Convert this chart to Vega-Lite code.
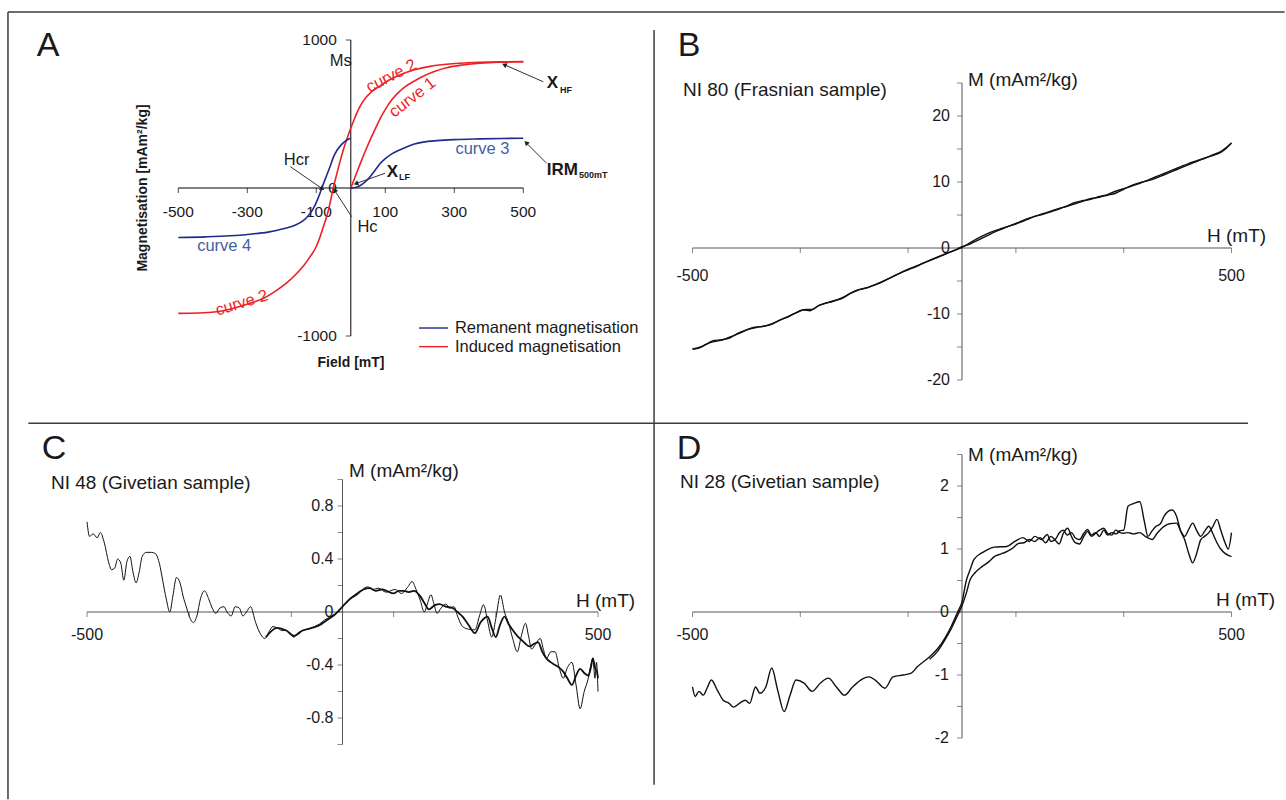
{
  "$schema": "https://vega.github.io/schema/vega-lite/v6.json",
  "width": 1286,
  "height": 800,
  "autosize": {"type": "fit", "contains": "padding"},
  "padding": 0,
  "background": "#ffffff",
  "config": {"view": {"stroke": null}, "font": "Liberation Sans", "text": {"font": "Liberation Sans", "color": "#1a1a1a"}},
  "resolve": {"scale": {"x": "independent", "y": "independent", "color": "independent"}},
  "datasets": {
    "frame": [
      {"x": 0.0062, "x2": 0.999, "y": 0.015, "y2": 0.015},
      {"x": 0.0062, "x2": 0.0062, "y": 0.015, "y2": 0.999},
      {"x": 0.022, "x2": 0.9705, "y": 0.529, "y2": 0.529},
      {"x": 0.5086, "x2": 0.5086, "y": 0.0375, "y2": 0.981}
    ],
    "xticks": [{"x": -500, "y": 0}, {"x": -300, "y": 0}, {"x": -100, "y": 0}, {"x": 100, "y": 0}, {"x": 300, "y": 0}, {"x": 500, "y": 0}],
    "xlab": [{"x": -500, "y": 0, "label": "-500"}, {"x": 500, "y": 0, "label": "500"}],
    "a_axes": [{"x": -500, "x2": 500, "y": 0, "y2": 0}, {"x": 0, "x2": 0, "y": -1000, "y2": 1000}],
    "a_yticks": [{"x": 0, "y": 1000}, {"x": 0, "y": -1000}],
    "a_xlab": [{"x": -500, "y": 0, "label": "-500"}, {"x": -300, "y": 0, "label": "-300"}, {"x": -100, "y": 0, "label": "-100"}, {"x": 100, "y": 0, "label": "100"}, {"x": 300, "y": 0, "label": "300"}, {"x": 500, "y": 0, "label": "500"}],
    "a_ylab": [{"x": 0, "y": 1000, "label": "1000"}, {"x": 0, "y": -1000, "label": "-1000"}, {"x": 0, "y": 0, "label": "0"}],
    "a_curves": [
      {"curve": "c1", "kind": "Induced", "x": 0, "y": 0}, {"curve": "c1", "kind": "Induced", "x": 15, "y": 90}, {"curve": "c1", "kind": "Induced", "x": 30, "y": 180}, {"curve": "c1", "kind": "Induced", "x": 45, "y": 265}, {"curve": "c1", "kind": "Induced", "x": 60, "y": 345}, {"curve": "c1", "kind": "Induced", "x": 75, "y": 420}, {"curve": "c1", "kind": "Induced", "x": 90, "y": 490}, {"curve": "c1", "kind": "Induced", "x": 105, "y": 550}, {"curve": "c1", "kind": "Induced", "x": 120, "y": 600}, {"curve": "c1", "kind": "Induced", "x": 140, "y": 650}, {"curve": "c1", "kind": "Induced", "x": 160, "y": 688}, {"curve": "c1", "kind": "Induced", "x": 182, "y": 720}, {"curve": "c1", "kind": "Induced", "x": 210, "y": 755}, {"curve": "c1", "kind": "Induced", "x": 240, "y": 785}, {"curve": "c1", "kind": "Induced", "x": 278, "y": 812}, {"curve": "c1", "kind": "Induced", "x": 320, "y": 830}, {"curve": "c1", "kind": "Induced", "x": 374, "y": 843}, {"curve": "c1", "kind": "Induced", "x": 430, "y": 850}, {"curve": "c1", "kind": "Induced", "x": 500, "y": 853},
      {"curve": "c2", "kind": "Induced", "x": -500, "y": -847}, {"curve": "c2", "kind": "Induced", "x": -440, "y": -845}, {"curve": "c2", "kind": "Induced", "x": -389, "y": -836}, {"curve": "c2", "kind": "Induced", "x": -340, "y": -812}, {"curve": "c2", "kind": "Induced", "x": -292, "y": -779}, {"curve": "c2", "kind": "Induced", "x": -250, "y": -742}, {"curve": "c2", "kind": "Induced", "x": -215, "y": -692}, {"curve": "c2", "kind": "Induced", "x": -185, "y": -640}, {"curve": "c2", "kind": "Induced", "x": -157, "y": -578}, {"curve": "c2", "kind": "Induced", "x": -135, "y": -520}, {"curve": "c2", "kind": "Induced", "x": -118, "y": -464}, {"curve": "c2", "kind": "Induced", "x": -100, "y": -395}, {"curve": "c2", "kind": "Induced", "x": -89, "y": -329}, {"curve": "c2", "kind": "Induced", "x": -80, "y": -265}, {"curve": "c2", "kind": "Induced", "x": -70, "y": -194}, {"curve": "c2", "kind": "Induced", "x": -60, "y": -100}, {"curve": "c2", "kind": "Induced", "x": -51, "y": 0}, {"curve": "c2", "kind": "Induced", "x": -40, "y": 100}, {"curve": "c2", "kind": "Induced", "x": -30, "y": 190}, {"curve": "c2", "kind": "Induced", "x": -20, "y": 270}, {"curve": "c2", "kind": "Induced", "x": -10, "y": 340}, {"curve": "c2", "kind": "Induced", "x": 0, "y": 405}, {"curve": "c2", "kind": "Induced", "x": 10, "y": 465}, {"curve": "c2", "kind": "Induced", "x": 20, "y": 520}, {"curve": "c2", "kind": "Induced", "x": 30, "y": 565}, {"curve": "c2", "kind": "Induced", "x": 45, "y": 615}, {"curve": "c2", "kind": "Induced", "x": 60, "y": 650}, {"curve": "c2", "kind": "Induced", "x": 85, "y": 690}, {"curve": "c2", "kind": "Induced", "x": 110, "y": 728}, {"curve": "c2", "kind": "Induced", "x": 140, "y": 762}, {"curve": "c2", "kind": "Induced", "x": 182, "y": 797}, {"curve": "c2", "kind": "Induced", "x": 230, "y": 822}, {"curve": "c2", "kind": "Induced", "x": 278, "y": 836}, {"curve": "c2", "kind": "Induced", "x": 330, "y": 845}, {"curve": "c2", "kind": "Induced", "x": 375, "y": 849}, {"curve": "c2", "kind": "Induced", "x": 430, "y": 852}, {"curve": "c2", "kind": "Induced", "x": 500, "y": 854},
      {"curve": "c3", "kind": "Remanent", "x": 0, "y": 0}, {"curve": "c3", "kind": "Remanent", "x": 10, "y": 2}, {"curve": "c3", "kind": "Remanent", "x": 20, "y": 8}, {"curve": "c3", "kind": "Remanent", "x": 30, "y": 20}, {"curve": "c3", "kind": "Remanent", "x": 40, "y": 38}, {"curve": "c3", "kind": "Remanent", "x": 50, "y": 60}, {"curve": "c3", "kind": "Remanent", "x": 60, "y": 88}, {"curve": "c3", "kind": "Remanent", "x": 70, "y": 118}, {"curve": "c3", "kind": "Remanent", "x": 85, "y": 165}, {"curve": "c3", "kind": "Remanent", "x": 100, "y": 198}, {"curve": "c3", "kind": "Remanent", "x": 120, "y": 232}, {"curve": "c3", "kind": "Remanent", "x": 140, "y": 255}, {"curve": "c3", "kind": "Remanent", "x": 160, "y": 276}, {"curve": "c3", "kind": "Remanent", "x": 182, "y": 295}, {"curve": "c3", "kind": "Remanent", "x": 210, "y": 310}, {"curve": "c3", "kind": "Remanent", "x": 250, "y": 320}, {"curve": "c3", "kind": "Remanent", "x": 300, "y": 327}, {"curve": "c3", "kind": "Remanent", "x": 374, "y": 332}, {"curve": "c3", "kind": "Remanent", "x": 440, "y": 335}, {"curve": "c3", "kind": "Remanent", "x": 500, "y": 336},
      {"curve": "c4", "kind": "Remanent", "x": -500, "y": -334}, {"curve": "c4", "kind": "Remanent", "x": -420, "y": -330}, {"curve": "c4", "kind": "Remanent", "x": -350, "y": -323}, {"curve": "c4", "kind": "Remanent", "x": -292, "y": -312}, {"curve": "c4", "kind": "Remanent", "x": -240, "y": -298}, {"curve": "c4", "kind": "Remanent", "x": -196, "y": -275}, {"curve": "c4", "kind": "Remanent", "x": -160, "y": -250}, {"curve": "c4", "kind": "Remanent", "x": -138, "y": -220}, {"curve": "c4", "kind": "Remanent", "x": -125, "y": -192}, {"curve": "c4", "kind": "Remanent", "x": -110, "y": -145}, {"curve": "c4", "kind": "Remanent", "x": -95, "y": -70}, {"curve": "c4", "kind": "Remanent", "x": -84, "y": 0}, {"curve": "c4", "kind": "Remanent", "x": -70, "y": 85}, {"curve": "c4", "kind": "Remanent", "x": -60, "y": 145}, {"curve": "c4", "kind": "Remanent", "x": -51, "y": 205}, {"curve": "c4", "kind": "Remanent", "x": -40, "y": 255}, {"curve": "c4", "kind": "Remanent", "x": -30, "y": 285}, {"curve": "c4", "kind": "Remanent", "x": -22, "y": 305}, {"curve": "c4", "kind": "Remanent", "x": -10, "y": 326}, {"curve": "c4", "kind": "Remanent", "x": 0, "y": 336}
    ],
    "a_legend": [{"kind": "Remanent", "x": 197.7, "x2": 281.7, "y": -946}, {"kind": "Induced", "x": 197.7, "x2": 281.7, "y": -1072}],
    "a_legend_text": [{"x": 301.7, "y": -946, "label": "Remanent magnetisation"}, {"x": 301.7, "y": -1072, "label": "Induced magnetisation"}],
    "a_black": [{"x": -156.8, "y": 189, "label": "Hcr"}, {"x": 48.4, "y": -261, "label": "Hc"}, {"x": -29, "y": 859, "label": "Ms"}],
    "a_blue": [{"x": 381.7, "y": 263.5, "label": "curve 3"}, {"x": -367, "y": -390, "label": "curve 4"}],
    "a_red": [{"id": "u", "x": 117.7, "y": 757, "label": "curve 2"}, {"id": "c1", "x": 178.5, "y": 611.5, "label": "curve 1"}, {"id": "l", "x": -316, "y": -777, "label": "curve 2"}],
    "a_bold": [{"x": 104, "y": 110, "label": "X"}, {"x": 567.8, "y": 707.4, "label": "X"}, {"x": 567.8, "y": 121.6, "label": "IRM"}],
    "a_sub": [{"x": 139.7, "y": 76.4, "label": "LF"}, {"x": 606.4, "y": 662, "label": "HF"}, {"x": 661.4, "y": 87.8, "label": "500mT"}],
    "a_ytitle": [{"x": -602, "y": 0, "label": "Magnetisation [mAm²/kg]"}],
    "a_xtitle": [{"x": 0.6, "y": -1182, "label": "Field [mT]"}],
    "a_letter": [{"x": -877.7, "y": 959.5, "label": "A"}],
    "a_arrows": [
      {"name": "Hcr", "x": -175, "y": 144, "x2": -84.5, "y2": -2},
      {"name": "Hc", "x": 2.6, "y": -194, "x2": -45.8, "y2": -20.3},
      {"name": "XLF", "x": 99.1, "y": 99.3, "x2": 17.1, "y2": 31.8},
      {"name": "XHF", "x": 558, "y": 718, "x2": 447, "y2": 831},
      {"name": "IRM", "x": 567.8, "y": 166.9, "x2": 509.9, "y2": 302}
    ],
    "a_heads": [
      {"name": "Hcr", "x": -84.5, "y": -2},
      {"name": "Hc", "x": -45.8, "y": -20.3},
      {"name": "XLF", "x": 17.1, "y": 31.8},
      {"name": "XHF", "x": 447, "y": 831},
      {"name": "IRM", "x": 509.9, "y": 302}
    ],
    "b_axes": [{"x": -500, "x2": 500, "y": 0, "y2": 0}, {"x": 0, "x2": 0, "y": -20, "y2": 25}],
    "b_yticks": [{"x": 0, "y": -20}, {"x": 0, "y": -15}, {"x": 0, "y": -10}, {"x": 0, "y": -5}, {"x": 0, "y": 0}, {"x": 0, "y": 5}, {"x": 0, "y": 10}, {"x": 0, "y": 15}, {"x": 0, "y": 20}, {"x": 0, "y": 25}],
    "b_ylab": [{"x": 0, "y": 20, "label": "20"}, {"x": 0, "y": 10, "label": "10"}, {"x": 0, "y": 0, "label": "0"}, {"x": 0, "y": -10, "label": "-10"}, {"x": 0, "y": -20, "label": "-20"}],
    "b_text": [{"x": -517.6, "y": 23.94, "label": "NI 80 (Frasnian sample)"}, {"x": 11.1, "y": 25.45, "label": "M (mAm²/kg)"}, {"x": 454.5, "y": 1.82, "label": "H (mT)"}],
    "b_letter": [{"x": -506.5, "y": 30.6, "label": "B"}],
    "b_curves": [
      {"s": "b1", "x": -500, "y": -15.3}, {"s": "b1", "x": -490, "y": -15.2}, {"s": "b1", "x": -475, "y": -14.6}, {"s": "b1", "x": -460, "y": -14.0}, {"s": "b1", "x": -445, "y": -13.9}, {"s": "b1", "x": -430, "y": -13.6}, {"s": "b1", "x": -415, "y": -12.9}, {"s": "b1", "x": -400, "y": -12.4}, {"s": "b1", "x": -385, "y": -12.0}, {"s": "b1", "x": -370, "y": -11.9}, {"s": "b1", "x": -355, "y": -11.6}, {"s": "b1", "x": -340, "y": -11.0}, {"s": "b1", "x": -325, "y": -10.5}, {"s": "b1", "x": -310, "y": -9.9}, {"s": "b1", "x": -295, "y": -9.4}, {"s": "b1", "x": -282, "y": -9.5}, {"s": "b1", "x": -270, "y": -8.9}, {"s": "b1", "x": -255, "y": -8.4}, {"s": "b1", "x": -240, "y": -8.1}, {"s": "b1", "x": -225, "y": -7.7}, {"s": "b1", "x": -210, "y": -7.0}, {"s": "b1", "x": -195, "y": -6.4}, {"s": "b1", "x": -180, "y": -6.1}, {"s": "b1", "x": -165, "y": -5.7}, {"s": "b1", "x": -150, "y": -5.2}, {"s": "b1", "x": -135, "y": -4.6}, {"s": "b1", "x": -120, "y": -4.0}, {"s": "b1", "x": -105, "y": -3.4}, {"s": "b1", "x": -90, "y": -2.9}, {"s": "b1", "x": -75, "y": -2.4}, {"s": "b1", "x": -60, "y": -1.9}, {"s": "b1", "x": -45, "y": -1.4}, {"s": "b1", "x": -30, "y": -0.9}, {"s": "b1", "x": -15, "y": -0.4}, {"s": "b1", "x": 0, "y": 0.1}, {"s": "b1", "x": 15, "y": 0.8}, {"s": "b1", "x": 30, "y": 1.5}, {"s": "b1", "x": 45, "y": 2.1}, {"s": "b1", "x": 60, "y": 2.6}, {"s": "b1", "x": 75, "y": 3.0}, {"s": "b1", "x": 90, "y": 3.4}, {"s": "b1", "x": 105, "y": 3.8}, {"s": "b1", "x": 120, "y": 4.3}, {"s": "b1", "x": 135, "y": 4.8}, {"s": "b1", "x": 150, "y": 5.2}, {"s": "b1", "x": 165, "y": 5.6}, {"s": "b1", "x": 180, "y": 6.0}, {"s": "b1", "x": 195, "y": 6.3}, {"s": "b1", "x": 210, "y": 6.7}, {"s": "b1", "x": 225, "y": 7.1}, {"s": "b1", "x": 240, "y": 7.4}, {"s": "b1", "x": 255, "y": 7.8}, {"s": "b1", "x": 270, "y": 8.1}, {"s": "b1", "x": 285, "y": 8.6}, {"s": "b1", "x": 300, "y": 9.0}, {"s": "b1", "x": 315, "y": 9.4}, {"s": "b1", "x": 330, "y": 9.8}, {"s": "b1", "x": 345, "y": 10.3}, {"s": "b1", "x": 360, "y": 10.8}, {"s": "b1", "x": 375, "y": 11.3}, {"s": "b1", "x": 390, "y": 11.8}, {"s": "b1", "x": 405, "y": 12.3}, {"s": "b1", "x": 420, "y": 12.8}, {"s": "b1", "x": 435, "y": 13.2}, {"s": "b1", "x": 450, "y": 13.6}, {"s": "b1", "x": 465, "y": 14.1}, {"s": "b1", "x": 480, "y": 14.6}, {"s": "b1", "x": 490, "y": 15.2}, {"s": "b1", "x": 500, "y": 15.9},
      {"s": "b2", "x": -500, "y": -15.3}, {"s": "b2", "x": -485, "y": -15.0}, {"s": "b2", "x": -470, "y": -14.4}, {"s": "b2", "x": -455, "y": -14.1}, {"s": "b2", "x": -440, "y": -13.8}, {"s": "b2", "x": -425, "y": -13.3}, {"s": "b2", "x": -410, "y": -12.8}, {"s": "b2", "x": -395, "y": -12.3}, {"s": "b2", "x": -380, "y": -12.0}, {"s": "b2", "x": -365, "y": -11.8}, {"s": "b2", "x": -350, "y": -11.4}, {"s": "b2", "x": -335, "y": -10.8}, {"s": "b2", "x": -320, "y": -10.3}, {"s": "b2", "x": -305, "y": -9.7}, {"s": "b2", "x": -290, "y": -9.3}, {"s": "b2", "x": -278, "y": -9.3}, {"s": "b2", "x": -265, "y": -8.7}, {"s": "b2", "x": -250, "y": -8.3}, {"s": "b2", "x": -235, "y": -7.9}, {"s": "b2", "x": -220, "y": -7.5}, {"s": "b2", "x": -205, "y": -6.8}, {"s": "b2", "x": -190, "y": -6.3}, {"s": "b2", "x": -175, "y": -6.0}, {"s": "b2", "x": -160, "y": -5.5}, {"s": "b2", "x": -145, "y": -5.0}, {"s": "b2", "x": -130, "y": -4.4}, {"s": "b2", "x": -115, "y": -3.8}, {"s": "b2", "x": -100, "y": -3.3}, {"s": "b2", "x": -85, "y": -2.8}, {"s": "b2", "x": -70, "y": -2.2}, {"s": "b2", "x": -55, "y": -1.7}, {"s": "b2", "x": -40, "y": -1.2}, {"s": "b2", "x": -25, "y": -0.7}, {"s": "b2", "x": -10, "y": -0.2}, {"s": "b2", "x": 0, "y": 0.2}, {"s": "b2", "x": 15, "y": 0.6}, {"s": "b2", "x": 30, "y": 1.2}, {"s": "b2", "x": 45, "y": 1.8}, {"s": "b2", "x": 60, "y": 2.4}, {"s": "b2", "x": 75, "y": 2.9}, {"s": "b2", "x": 90, "y": 3.4}, {"s": "b2", "x": 105, "y": 3.9}, {"s": "b2", "x": 120, "y": 4.4}, {"s": "b2", "x": 135, "y": 4.8}, {"s": "b2", "x": 150, "y": 5.1}, {"s": "b2", "x": 165, "y": 5.5}, {"s": "b2", "x": 180, "y": 5.9}, {"s": "b2", "x": 195, "y": 6.4}, {"s": "b2", "x": 210, "y": 6.9}, {"s": "b2", "x": 225, "y": 7.2}, {"s": "b2", "x": 240, "y": 7.5}, {"s": "b2", "x": 255, "y": 7.7}, {"s": "b2", "x": 270, "y": 8.0}, {"s": "b2", "x": 285, "y": 8.3}, {"s": "b2", "x": 300, "y": 8.9}, {"s": "b2", "x": 315, "y": 9.5}, {"s": "b2", "x": 330, "y": 9.9}, {"s": "b2", "x": 345, "y": 10.2}, {"s": "b2", "x": 360, "y": 10.6}, {"s": "b2", "x": 375, "y": 11.1}, {"s": "b2", "x": 390, "y": 11.6}, {"s": "b2", "x": 405, "y": 12.1}, {"s": "b2", "x": 420, "y": 12.6}, {"s": "b2", "x": 435, "y": 13.1}, {"s": "b2", "x": 450, "y": 13.6}, {"s": "b2", "x": 465, "y": 14.0}, {"s": "b2", "x": 480, "y": 14.5}, {"s": "b2", "x": 490, "y": 15.1}, {"s": "b2", "x": 500, "y": 15.9}
    ],
    "c_axes": [{"x": -500, "x2": 500, "y": 0, "y2": 0}, {"x": 0, "x2": 0, "y": -1, "y2": 1}],
    "c_yticks": [{"x": 0, "y": -1}, {"x": 0, "y": -0.8}, {"x": 0, "y": -0.6}, {"x": 0, "y": -0.4}, {"x": 0, "y": -0.2}, {"x": 0, "y": 0}, {"x": 0, "y": 0.2}, {"x": 0, "y": 0.4}, {"x": 0, "y": 0.6}, {"x": 0, "y": 0.8}, {"x": 0, "y": 1}],
    "c_ylab": [{"x": 0, "y": 0.8, "label": "0.8"}, {"x": 0, "y": 0.4, "label": "0.4"}, {"x": 0, "y": 0, "label": "0"}, {"x": 0, "y": -0.4, "label": "-0.4"}, {"x": 0, "y": -0.8, "label": "-0.8"}],
    "c_text": [{"x": -570.5, "y": 0.9736, "label": "NI 48 (Givetian sample)"}, {"x": 12.7, "y": 1.064, "label": "M (mAm²/kg)"}, {"x": 456.9, "y": 0.083, "label": "H (mT)"}],
    "c_letter": [{"x": -564.6, "y": 1.23, "label": "C"}],
    "c_thin": [
      {"x": -500, "y": 0.68}, {"x": -495, "y": 0.57}, {"x": -488, "y": 0.59}, {"x": -480, "y": 0.56}, {"x": -474, "y": 0.6}, {"x": -466, "y": 0.52}, {"x": -458, "y": 0.38}, {"x": -452, "y": 0.32}, {"x": -446, "y": 0.33}, {"x": -440, "y": 0.40}, {"x": -434, "y": 0.37}, {"x": -428, "y": 0.24}, {"x": -422, "y": 0.38}, {"x": -416, "y": 0.42}, {"x": -410, "y": 0.30}, {"x": -404, "y": 0.22}, {"x": -398, "y": 0.30}, {"x": -392, "y": 0.42}, {"x": -384, "y": 0.45}, {"x": -374, "y": 0.45}, {"x": -366, "y": 0.44}, {"x": -358, "y": 0.36}, {"x": -352, "y": 0.24}, {"x": -345, "y": 0.1}, {"x": -338, "y": 0.0}, {"x": -332, "y": 0.12}, {"x": -325, "y": 0.26}, {"x": -318, "y": 0.22}, {"x": -312, "y": 0.12}, {"x": -305, "y": 0.03}, {"x": -298, "y": -0.05}, {"x": -292, "y": -0.08}, {"x": -285, "y": -0.03}, {"x": -278, "y": 0.1}, {"x": -270, "y": 0.16}, {"x": -262, "y": 0.1}, {"x": -255, "y": 0.03}, {"x": -248, "y": -0.01}, {"x": -240, "y": 0.03}, {"x": -232, "y": 0.04}, {"x": -226, "y": 0.0}, {"x": -218, "y": -0.03}, {"x": -210, "y": 0.04}, {"x": -202, "y": 0.03}, {"x": -195, "y": -0.03}, {"x": -188, "y": 0.0}, {"x": -180, "y": 0.04}, {"x": -170, "y": -0.08}, {"x": -160, "y": -0.17}, {"x": -152, "y": -0.2}, {"x": -144, "y": -0.15}, {"x": -136, "y": -0.11}, {"x": -128, "y": -0.12}, {"x": -118, "y": -0.14}, {"x": -110, "y": -0.14}, {"x": -102, "y": -0.17}, {"x": -95, "y": -0.19}, {"x": -88, "y": -0.16}, {"x": -78, "y": -0.14}, {"x": -68, "y": -0.13}, {"x": -55, "y": -0.11}, {"x": -45, "y": -0.09}, {"x": -35, "y": -0.06}, {"x": -21, "y": -0.03}, {"x": -10, "y": 0.0}, {"x": 0, "y": 0.04}, {"x": 12, "y": 0.09}, {"x": 29, "y": 0.13}, {"x": 49, "y": 0.19}, {"x": 60, "y": 0.17}, {"x": 70, "y": 0.18}, {"x": 85, "y": 0.15}, {"x": 103, "y": 0.17}, {"x": 115, "y": 0.14}, {"x": 128, "y": 0.19}, {"x": 136, "y": 0.23}, {"x": 144, "y": 0.17}, {"x": 152, "y": 0.09}, {"x": 160, "y": 0.0}, {"x": 166, "y": 0.06}, {"x": 173, "y": 0.13}, {"x": 179, "y": 0.06}, {"x": 185, "y": -0.01}, {"x": 193, "y": 0.03}, {"x": 202, "y": 0.06}, {"x": 210, "y": 0.03}, {"x": 218, "y": 0.04}, {"x": 226, "y": -0.04}, {"x": 235, "y": -0.11}, {"x": 247, "y": -0.13}, {"x": 259, "y": -0.135}, {"x": 268, "y": -0.03}, {"x": 276, "y": 0.055}, {"x": 284, "y": -0.07}, {"x": 292, "y": -0.19}, {"x": 300, "y": -0.05}, {"x": 309, "y": 0.128}, {"x": 317, "y": 0.0}, {"x": 325, "y": -0.085}, {"x": 333, "y": -0.2}, {"x": 342, "y": -0.3}, {"x": 350, "y": -0.18}, {"x": 358, "y": -0.085}, {"x": 364, "y": -0.18}, {"x": 370, "y": -0.28}, {"x": 378, "y": -0.24}, {"x": 387, "y": -0.2}, {"x": 393, "y": -0.28}, {"x": 399, "y": -0.35}, {"x": 408, "y": -0.3}, {"x": 416, "y": -0.3}, {"x": 424, "y": -0.42}, {"x": 432, "y": -0.5}, {"x": 440, "y": -0.42}, {"x": 449, "y": -0.38}, {"x": 457, "y": -0.55}, {"x": 465, "y": -0.73}, {"x": 473, "y": -0.6}, {"x": 481, "y": -0.5}, {"x": 486, "y": -0.4}, {"x": 490, "y": -0.35}, {"x": 494, "y": -0.5}, {"x": 497, "y": -0.38}, {"x": 500, "y": -0.6}
    ],
    "c_thick": [
      {"x": -150, "y": -0.19}, {"x": -128, "y": -0.12}, {"x": -110, "y": -0.14}, {"x": -95, "y": -0.18}, {"x": -78, "y": -0.14}, {"x": -60, "y": -0.12}, {"x": -45, "y": -0.1}, {"x": -30, "y": -0.06}, {"x": -15, "y": -0.02}, {"x": 0, "y": 0.04}, {"x": 15, "y": 0.1}, {"x": 29, "y": 0.14}, {"x": 41, "y": 0.17}, {"x": 53, "y": 0.18}, {"x": 65, "y": 0.16}, {"x": 78, "y": 0.17}, {"x": 86, "y": 0.16}, {"x": 100, "y": 0.14}, {"x": 110, "y": 0.16}, {"x": 119, "y": 0.16}, {"x": 130, "y": 0.15}, {"x": 140, "y": 0.16}, {"x": 152, "y": 0.12}, {"x": 160, "y": 0.07}, {"x": 169, "y": 0.02}, {"x": 180, "y": 0.05}, {"x": 190, "y": 0.06}, {"x": 202, "y": 0.04}, {"x": 215, "y": 0.03}, {"x": 225, "y": 0.0}, {"x": 235, "y": -0.035}, {"x": 247, "y": -0.1}, {"x": 259, "y": -0.16}, {"x": 270, "y": -0.08}, {"x": 284, "y": -0.035}, {"x": 292, "y": -0.12}, {"x": 300, "y": -0.19}, {"x": 308, "y": -0.1}, {"x": 317, "y": -0.035}, {"x": 325, "y": -0.09}, {"x": 333, "y": -0.136}, {"x": 342, "y": -0.18}, {"x": 350, "y": -0.21}, {"x": 358, "y": -0.24}, {"x": 366, "y": -0.26}, {"x": 375, "y": -0.24}, {"x": 383, "y": -0.23}, {"x": 391, "y": -0.3}, {"x": 399, "y": -0.35}, {"x": 408, "y": -0.38}, {"x": 416, "y": -0.4}, {"x": 424, "y": -0.42}, {"x": 432, "y": -0.45}, {"x": 440, "y": -0.5}, {"x": 449, "y": -0.55}, {"x": 457, "y": -0.48}, {"x": 465, "y": -0.43}, {"x": 473, "y": -0.46}, {"x": 481, "y": -0.48}, {"x": 486, "y": -0.42}, {"x": 490, "y": -0.35}, {"x": 494, "y": -0.42}, {"x": 498, "y": -0.45}, {"x": 500, "y": -0.5}
    ],
    "d_axes": [{"x": -500, "x2": 500, "y": 0, "y2": 0}, {"x": 0, "x2": 0, "y": -2, "y2": 2.5}],
    "d_yticks": [{"x": 0, "y": -2}, {"x": 0, "y": -1.5}, {"x": 0, "y": -1}, {"x": 0, "y": -0.5}, {"x": 0, "y": 0}, {"x": 0, "y": 0.5}, {"x": 0, "y": 1}, {"x": 0, "y": 1.5}, {"x": 0, "y": 2}, {"x": 0, "y": 2.5}],
    "d_ylab": [{"x": 0, "y": 2, "label": "2"}, {"x": 0, "y": 1, "label": "1"}, {"x": 0, "y": 0, "label": "0"}, {"x": 0, "y": -1, "label": "-1"}, {"x": 0, "y": -2, "label": "-2"}],
    "d_text": [{"x": -523.2, "y": 2.063, "label": "NI 28 (Givetian sample)"}, {"x": 11.1, "y": 2.492, "label": "M (mAm²/kg)"}, {"x": 471.2, "y": 0.19, "label": "H (mT)"}],
    "d_letter": [{"x": -506.5, "y": 2.587, "label": "D"}],
    "d_curves": [
      {"s": "d1", "x": -500, "y": -1.19}, {"s": "d1", "x": -495, "y": -1.34}, {"s": "d1", "x": -488, "y": -1.26}, {"s": "d1", "x": -480, "y": -1.32}, {"s": "d1", "x": -473, "y": -1.21}, {"s": "d1", "x": -465, "y": -1.08}, {"s": "d1", "x": -454, "y": -1.24}, {"s": "d1", "x": -443, "y": -1.40}, {"s": "d1", "x": -432, "y": -1.45}, {"s": "d1", "x": -424, "y": -1.51}, {"s": "d1", "x": -413, "y": -1.45}, {"s": "d1", "x": -402, "y": -1.40}, {"s": "d1", "x": -394, "y": -1.45}, {"s": "d1", "x": -383, "y": -1.19}, {"s": "d1", "x": -375, "y": -1.29}, {"s": "d1", "x": -364, "y": -1.19}, {"s": "d1", "x": -353, "y": -0.89}, {"s": "d1", "x": -342, "y": -1.24}, {"s": "d1", "x": -330, "y": -1.58}, {"s": "d1", "x": -319, "y": -1.32}, {"s": "d1", "x": -308, "y": -1.08}, {"s": "d1", "x": -293, "y": -1.13}, {"s": "d1", "x": -278, "y": -1.26}, {"s": "d1", "x": -263, "y": -1.13}, {"s": "d1", "x": -248, "y": -1.05}, {"s": "d1", "x": -233, "y": -1.19}, {"s": "d1", "x": -218, "y": -1.32}, {"s": "d1", "x": -203, "y": -1.19}, {"s": "d1", "x": -188, "y": -1.08}, {"s": "d1", "x": -173, "y": -1.03}, {"s": "d1", "x": -161, "y": -1.08}, {"s": "d1", "x": -143, "y": -1.21}, {"s": "d1", "x": -128, "y": -1.03}, {"s": "d1", "x": -109, "y": -1.0}, {"s": "d1", "x": -94, "y": -0.97}, {"s": "d1", "x": -83, "y": -0.87}, {"s": "d1", "x": -60, "y": -0.71}, {"s": "d1", "x": -45, "y": -0.58}, {"s": "d1", "x": -30, "y": -0.39}, {"s": "d1", "x": -19, "y": -0.21}, {"s": "d1", "x": -8, "y": 0.0}, {"s": "d1", "x": 0, "y": 0.16}, {"s": "d1", "x": 8, "y": 0.5}, {"s": "d1", "x": 15, "y": 0.67}, {"s": "d1", "x": 22, "y": 0.83}, {"s": "d1", "x": 35, "y": 0.93}, {"s": "d1", "x": 45, "y": 0.98}, {"s": "d1", "x": 60, "y": 1.03}, {"s": "d1", "x": 83, "y": 1.04}, {"s": "d1", "x": 98, "y": 1.12}, {"s": "d1", "x": 113, "y": 1.18}, {"s": "d1", "x": 125, "y": 1.12}, {"s": "d1", "x": 135, "y": 1.2}, {"s": "d1", "x": 148, "y": 1.15}, {"s": "d1", "x": 158, "y": 1.23}, {"s": "d1", "x": 165, "y": 1.12}, {"s": "d1", "x": 173, "y": 1.15}, {"s": "d1", "x": 180, "y": 1.25}, {"s": "d1", "x": 188, "y": 1.3}, {"s": "d1", "x": 195, "y": 1.22}, {"s": "d1", "x": 203, "y": 1.26}, {"s": "d1", "x": 210, "y": 1.18}, {"s": "d1", "x": 218, "y": 1.15}, {"s": "d1", "x": 226, "y": 1.25}, {"s": "d1", "x": 233, "y": 1.31}, {"s": "d1", "x": 240, "y": 1.22}, {"s": "d1", "x": 248, "y": 1.26}, {"s": "d1", "x": 255, "y": 1.2}, {"s": "d1", "x": 263, "y": 1.3}, {"s": "d1", "x": 270, "y": 1.22}, {"s": "d1", "x": 278, "y": 1.26}, {"s": "d1", "x": 286, "y": 1.24}, {"s": "d1", "x": 293, "y": 1.29}, {"s": "d1", "x": 300, "y": 1.3}, {"s": "d1", "x": 308, "y": 1.68}, {"s": "d1", "x": 318, "y": 1.72}, {"s": "d1", "x": 330, "y": 1.75}, {"s": "d1", "x": 338, "y": 1.45}, {"s": "d1", "x": 345, "y": 1.2}, {"s": "d1", "x": 352, "y": 1.28}, {"s": "d1", "x": 360, "y": 1.36}, {"s": "d1", "x": 368, "y": 1.4}, {"s": "d1", "x": 375, "y": 1.52}, {"s": "d1", "x": 383, "y": 1.6}, {"s": "d1", "x": 390, "y": 1.62}, {"s": "d1", "x": 398, "y": 1.52}, {"s": "d1", "x": 405, "y": 1.3}, {"s": "d1", "x": 413, "y": 1.15}, {"s": "d1", "x": 420, "y": 0.95}, {"s": "d1", "x": 428, "y": 0.78}, {"s": "d1", "x": 435, "y": 0.92}, {"s": "d1", "x": 443, "y": 1.15}, {"s": "d1", "x": 450, "y": 1.2}, {"s": "d1", "x": 458, "y": 1.26}, {"s": "d1", "x": 465, "y": 1.35}, {"s": "d1", "x": 473, "y": 1.47}, {"s": "d1", "x": 480, "y": 1.3}, {"s": "d1", "x": 488, "y": 1.1}, {"s": "d1", "x": 494, "y": 1.0}, {"s": "d1", "x": 500, "y": 1.26},
      {"s": "d2", "x": -60, "y": -0.75}, {"s": "d2", "x": -45, "y": -0.62}, {"s": "d2", "x": -30, "y": -0.42}, {"s": "d2", "x": -19, "y": -0.25}, {"s": "d2", "x": -8, "y": -0.05}, {"s": "d2", "x": 0, "y": 0.1}, {"s": "d2", "x": 8, "y": 0.3}, {"s": "d2", "x": 15, "y": 0.51}, {"s": "d2", "x": 25, "y": 0.63}, {"s": "d2", "x": 37, "y": 0.72}, {"s": "d2", "x": 50, "y": 0.8}, {"s": "d2", "x": 60, "y": 0.88}, {"s": "d2", "x": 72, "y": 0.92}, {"s": "d2", "x": 83, "y": 0.96}, {"s": "d2", "x": 95, "y": 1.02}, {"s": "d2", "x": 105, "y": 1.09}, {"s": "d2", "x": 115, "y": 1.1}, {"s": "d2", "x": 125, "y": 1.15}, {"s": "d2", "x": 135, "y": 1.12}, {"s": "d2", "x": 145, "y": 1.18}, {"s": "d2", "x": 155, "y": 1.1}, {"s": "d2", "x": 165, "y": 1.2}, {"s": "d2", "x": 173, "y": 1.14}, {"s": "d2", "x": 180, "y": 1.08}, {"s": "d2", "x": 188, "y": 1.25}, {"s": "d2", "x": 196, "y": 1.33}, {"s": "d2", "x": 203, "y": 1.2}, {"s": "d2", "x": 210, "y": 1.1}, {"s": "d2", "x": 218, "y": 1.08}, {"s": "d2", "x": 226, "y": 1.2}, {"s": "d2", "x": 233, "y": 1.28}, {"s": "d2", "x": 240, "y": 1.2}, {"s": "d2", "x": 248, "y": 1.25}, {"s": "d2", "x": 255, "y": 1.3}, {"s": "d2", "x": 263, "y": 1.33}, {"s": "d2", "x": 270, "y": 1.25}, {"s": "d2", "x": 278, "y": 1.22}, {"s": "d2", "x": 285, "y": 1.3}, {"s": "d2", "x": 293, "y": 1.26}, {"s": "d2", "x": 300, "y": 1.25}, {"s": "d2", "x": 308, "y": 1.26}, {"s": "d2", "x": 318, "y": 1.24}, {"s": "d2", "x": 330, "y": 1.26}, {"s": "d2", "x": 340, "y": 1.2}, {"s": "d2", "x": 353, "y": 1.15}, {"s": "d2", "x": 362, "y": 1.25}, {"s": "d2", "x": 375, "y": 1.36}, {"s": "d2", "x": 385, "y": 1.4}, {"s": "d2", "x": 398, "y": 1.41}, {"s": "d2", "x": 405, "y": 1.3}, {"s": "d2", "x": 413, "y": 1.2}, {"s": "d2", "x": 420, "y": 1.3}, {"s": "d2", "x": 428, "y": 1.41}, {"s": "d2", "x": 435, "y": 1.3}, {"s": "d2", "x": 443, "y": 1.2}, {"s": "d2", "x": 450, "y": 1.28}, {"s": "d2", "x": 458, "y": 1.36}, {"s": "d2", "x": 465, "y": 1.25}, {"s": "d2", "x": 473, "y": 1.1}, {"s": "d2", "x": 480, "y": 1.0}, {"s": "d2", "x": 488, "y": 0.93}, {"s": "d2", "x": 494, "y": 0.9}, {"s": "d2", "x": 500, "y": 0.88}
    ]
  },
  "layer": [
    {
      "encoding": {
        "x": {"field": "x", "type": "quantitative", "scale": {"domain": [-1016.8, 2710.7], "nice": false, "zero": false}, "axis": null},
        "y": {"field": "y", "type": "quantitative", "scale": {"domain": [-4135.1, 1270.3], "nice": false, "zero": false}, "axis": null}
      },
      "layer": [
        {"data": {"name": "a_axes"}, "mark": {"type": "rule", "color": "#000000", "strokeWidth": 1}, "encoding": {"x2": {"field": "x2"}, "y2": {"field": "y2"}}},
        {"data": {"name": "xticks"}, "mark": {"type": "tick", "orient": "vertical", "size": 5, "thickness": 1, "yOffset": 2.5, "color": "#000000"}},
        {"data": {"name": "a_yticks"}, "mark": {"type": "tick", "orient": "horizontal", "size": 5, "thickness": 1, "xOffset": -2.5, "color": "#000000"}},
        {"data": {"name": "a_xlab"}, "mark": {"type": "text", "fontSize": 15.5, "dy": 24, "align": "center", "baseline": "middle"}, "encoding": {"text": {"field": "label"}}},
        {"data": {"name": "a_ylab"}, "mark": {"type": "text", "fontSize": 15.5, "dx": -14, "align": "right", "baseline": "middle"}, "encoding": {"text": {"field": "label"}}},
        {"data": {"name": "a_curves"}, "mark": {"type": "line", "strokeWidth": 1.6, "interpolate": "monotone"}, "encoding": {"color": {"field": "kind", "type": "nominal", "scale": {"domain": ["Remanent", "Induced"], "range": ["#1f2a8c", "#ee1f26"]}, "legend": null}, "detail": {"field": "curve"}}},
        {"data": {"name": "a_legend"}, "mark": {"type": "rule", "strokeWidth": 1.4}, "encoding": {"x2": {"field": "x2"}, "color": {"field": "kind", "type": "nominal", "legend": null}}},
        {"data": {"name": "a_legend_text"}, "mark": {"type": "text", "fontSize": 16.5, "align": "left", "baseline": "middle"}, "encoding": {"text": {"field": "label"}}},
        {"data": {"name": "a_black"}, "mark": {"type": "text", "fontSize": 16.5, "align": "center", "baseline": "middle"}, "encoding": {"text": {"field": "label"}}},
        {"data": {"name": "a_blue"}, "mark": {"type": "text", "fontSize": 16.5, "align": "center", "baseline": "middle", "color": "#44609f"}, "encoding": {"text": {"field": "label"}}},
        {"data": {"name": "a_red"}, "transform": [{"filter": {"field": "id", "equal": "u"}}], "mark": {"type": "text", "fontSize": 16.5, "align": "center", "baseline": "middle", "color": "#ee1f26", "angle": 333}, "encoding": {"text": {"field": "label"}}},
        {"data": {"name": "a_red"}, "transform": [{"filter": {"field": "id", "equal": "c1"}}], "mark": {"type": "text", "fontSize": 16.5, "align": "center", "baseline": "middle", "color": "#ee1f26", "angle": 322}, "encoding": {"text": {"field": "label"}}},
        {"data": {"name": "a_red"}, "transform": [{"filter": {"field": "id", "equal": "l"}}], "mark": {"type": "text", "fontSize": 16.5, "align": "center", "baseline": "middle", "color": "#ee1f26", "angle": 343}, "encoding": {"text": {"field": "label"}}},
        {"data": {"name": "a_bold"}, "mark": {"type": "text", "fontSize": 17, "fontWeight": "bold", "align": "left", "baseline": "middle"}, "encoding": {"text": {"field": "label"}}},
        {"data": {"name": "a_sub"}, "mark": {"type": "text", "fontSize": 9, "fontWeight": "bold", "align": "left", "baseline": "middle"}, "encoding": {"text": {"field": "label"}}},
        {"data": {"name": "a_ytitle"}, "mark": {"type": "text", "fontSize": 14, "fontWeight": "bold", "align": "center", "baseline": "middle", "angle": 270}, "encoding": {"text": {"field": "label"}}},
        {"data": {"name": "a_xtitle"}, "mark": {"type": "text", "fontSize": 14, "fontWeight": "bold", "align": "center", "baseline": "middle"}, "encoding": {"text": {"field": "label"}}},
        {"data": {"name": "a_letter"}, "mark": {"type": "text", "fontSize": 34, "align": "center", "baseline": "middle"}, "encoding": {"text": {"field": "label"}}},
        {"data": {"name": "a_arrows"}, "mark": {"type": "rule", "color": "#333333", "strokeWidth": 1}, "encoding": {"x2": {"field": "x2"}, "y2": {"field": "y2"}}},
        {"data": {"name": "a_heads"}, "transform": [{"filter": {"field": "name", "equal": "Hcr"}}], "mark": {"type": "point", "shape": "triangle", "filled": true, "size": 30, "opacity": 1, "color": "#222222", "angle": 124}},
        {"data": {"name": "a_heads"}, "transform": [{"filter": {"field": "name", "equal": "Hc"}}], "mark": {"type": "point", "shape": "triangle", "filled": true, "size": 30, "opacity": 1, "color": "#222222", "angle": 327}},
        {"data": {"name": "a_heads"}, "transform": [{"filter": {"field": "name", "equal": "XLF"}}], "mark": {"type": "point", "shape": "triangle", "filled": true, "size": 30, "opacity": 1, "color": "#222222", "angle": 250}},
        {"data": {"name": "a_heads"}, "transform": [{"filter": {"field": "name", "equal": "XHF"}}], "mark": {"type": "point", "shape": "triangle", "filled": true, "size": 30, "opacity": 1, "color": "#222222", "angle": 294}},
        {"data": {"name": "a_heads"}, "transform": [{"filter": {"field": "name", "equal": "IRM"}}], "mark": {"type": "point", "shape": "triangle", "filled": true, "size": 30, "opacity": 1, "color": "#222222", "angle": 315}}
      ]
    },
    {
      "encoding": {
        "x": {"field": "x", "type": "quantitative", "scale": {"domain": [-1784.8, 601.1], "nice": false, "zero": false}, "axis": null},
        "y": {"field": "y", "type": "quantitative", "scale": {"domain": [-83.64, 37.58], "nice": false, "zero": false}, "axis": null}
      },
      "layer": [
        {"data": {"name": "b_axes"}, "mark": {"type": "rule", "color": "#555555", "strokeWidth": 1}, "encoding": {"x2": {"field": "x2"}, "y2": {"field": "y2"}}},
        {"data": {"name": "xticks"}, "mark": {"type": "tick", "orient": "vertical", "size": 5, "thickness": 1, "yOffset": 2.5, "color": "#555555"}},
        {"data": {"name": "b_yticks"}, "mark": {"type": "tick", "orient": "horizontal", "size": 5, "thickness": 1, "xOffset": -2.5, "color": "#555555"}},
        {"data": {"name": "xlab"}, "mark": {"type": "text", "fontSize": 16, "dy": 28, "align": "center", "baseline": "middle"}, "encoding": {"text": {"field": "label"}}},
        {"data": {"name": "b_ylab"}, "mark": {"type": "text", "fontSize": 16, "dx": -12, "align": "right", "baseline": "middle"}, "encoding": {"text": {"field": "label"}}},
        {"data": {"name": "b_curves"}, "mark": {"type": "line", "color": "#111111", "strokeWidth": 1.4, "interpolate": "monotone"}, "encoding": {"detail": {"field": "s"}}},
        {"data": {"name": "b_text"}, "mark": {"type": "text", "fontSize": 19, "align": "left", "baseline": "middle"}, "encoding": {"text": {"field": "label"}}},
        {"data": {"name": "b_letter"}, "mark": {"type": "text", "fontSize": 34, "align": "center", "baseline": "middle"}, "encoding": {"text": {"field": "label"}}}
      ]
    },
    {
      "encoding": {
        "x": {"field": "x", "type": "quantitative", "scale": {"domain": [-670.3, 1846.4], "nice": false, "zero": false}, "axis": null},
        "y": {"field": "y", "type": "quantitative", "scale": {"domain": [-1.4189, 4.6189], "nice": false, "zero": false}, "axis": null}
      },
      "layer": [
        {"data": {"name": "c_axes"}, "mark": {"type": "rule", "color": "#555555", "strokeWidth": 1}, "encoding": {"x2": {"field": "x2"}, "y2": {"field": "y2"}}},
        {"data": {"name": "xticks"}, "mark": {"type": "tick", "orient": "vertical", "size": 5, "thickness": 1, "yOffset": 2.5, "color": "#555555"}},
        {"data": {"name": "c_yticks"}, "mark": {"type": "tick", "orient": "horizontal", "size": 5, "thickness": 1, "xOffset": -2.5, "color": "#555555"}},
        {"data": {"name": "xlab"}, "mark": {"type": "text", "fontSize": 16, "dy": 23, "align": "center", "baseline": "middle"}, "encoding": {"text": {"field": "label"}}},
        {"data": {"name": "c_ylab"}, "mark": {"type": "text", "fontSize": 16, "dx": -9, "align": "right", "baseline": "middle"}, "encoding": {"text": {"field": "label"}}},
        {"data": {"name": "c_thin"}, "mark": {"type": "line", "color": "#111111", "strokeWidth": 1, "interpolate": "monotone"}},
        {"data": {"name": "c_thick"}, "mark": {"type": "line", "color": "#111111", "strokeWidth": 1.8, "interpolate": "monotone"}},
        {"data": {"name": "c_text"}, "mark": {"type": "text", "fontSize": 19, "align": "left", "baseline": "middle"}, "encoding": {"text": {"field": "label"}}},
        {"data": {"name": "c_letter"}, "mark": {"type": "text", "fontSize": 34, "align": "center", "baseline": "middle"}, "encoding": {"text": {"field": "label"}}}
      ]
    },
    {
      "encoding": {
        "x": {"field": "x", "type": "quantitative", "scale": {"domain": [-1784.8, 601.1], "nice": false, "zero": false}, "axis": null},
        "y": {"field": "y", "type": "quantitative", "scale": {"domain": [-2.984, 9.714], "nice": false, "zero": false}, "axis": null}
      },
      "layer": [
        {"data": {"name": "d_axes"}, "mark": {"type": "rule", "color": "#555555", "strokeWidth": 1}, "encoding": {"x2": {"field": "x2"}, "y2": {"field": "y2"}}},
        {"data": {"name": "xticks"}, "mark": {"type": "tick", "orient": "vertical", "size": 5, "thickness": 1, "yOffset": 2.5, "color": "#555555"}},
        {"data": {"name": "d_yticks"}, "mark": {"type": "tick", "orient": "horizontal", "size": 5, "thickness": 1, "xOffset": -2.5, "color": "#555555"}},
        {"data": {"name": "xlab"}, "mark": {"type": "text", "fontSize": 16, "dy": 23, "align": "center", "baseline": "middle"}, "encoding": {"text": {"field": "label"}}},
        {"data": {"name": "d_ylab"}, "mark": {"type": "text", "fontSize": 16, "dx": -13, "align": "right", "baseline": "middle"}, "encoding": {"text": {"field": "label"}}},
        {"data": {"name": "d_curves"}, "mark": {"type": "line", "color": "#111111", "strokeWidth": 1.4, "interpolate": "monotone"}, "encoding": {"detail": {"field": "s"}}},
        {"data": {"name": "d_text"}, "mark": {"type": "text", "fontSize": 19, "align": "left", "baseline": "middle"}, "encoding": {"text": {"field": "label"}}},
        {"data": {"name": "d_letter"}, "mark": {"type": "text", "fontSize": 34, "align": "center", "baseline": "middle"}, "encoding": {"text": {"field": "label"}}}
      ]
    },
    {
      "data": {"name": "frame"},
      "mark": {"type": "rule", "color": "#3c3c3c", "strokeWidth": 1.5},
      "encoding": {
        "x": {"field": "x", "type": "quantitative", "scale": {"domain": [0, 1], "nice": false, "zero": false}, "axis": null},
        "x2": {"field": "x2"},
        "y": {"field": "y", "type": "quantitative", "scale": {"domain": [0, 1], "reverse": true, "nice": false, "zero": false}, "axis": null},
        "y2": {"field": "y2"}
      }
    }
  ]
}
